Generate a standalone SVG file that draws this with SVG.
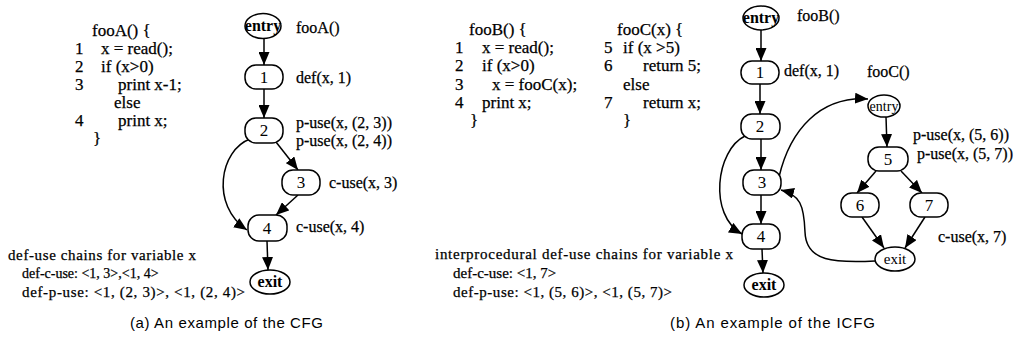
<svg xmlns="http://www.w3.org/2000/svg" width="1033" height="356" viewBox="0 0 1033 356">
<style>
.t{font-family:"Liberation Serif","Times New Roman",serif;font-size:17px;fill:#000;stroke:#000;stroke-width:0.25}
.l{font-family:"Liberation Serif","Times New Roman",serif;font-size:16px;fill:#000;stroke:#000;stroke-width:0.25}
.s{font-family:"Liberation Serif","Times New Roman",serif;font-size:15px;fill:#000;stroke:#000;stroke-width:0.25}
.n{font-family:"Liberation Serif","Times New Roman",serif;font-size:17px;fill:#000;text-anchor:middle}
.b{font-family:"Liberation Serif","Times New Roman",serif;font-size:16px;font-weight:bold;fill:#000;text-anchor:middle}
.c{font-family:"Liberation Sans",Arial,sans-serif;font-size:15px;fill:#000}
.nd{fill:#fff;stroke:#000;stroke-width:1.5}
.e{fill:none;stroke:#000;stroke-width:1.5;marker-end:url(#ah)}
</style>
<defs>
<marker id="ah" markerUnits="userSpaceOnUse" markerWidth="13" markerHeight="11" refX="13" refY="5.5" orient="auto">
<path d="M0,0 L13,5.5 L0,11 z" fill="#000"/>
</marker>
</defs>
<rect width="1033" height="356" fill="#fff"/>

<g id="codeA">
<text class="t" x="92" y="36">fooA() {</text>
<text class="t" x="75" y="54">1</text><text class="t" x="101" y="54">x = read();</text>
<text class="t" x="75" y="72">2</text><text class="t" x="101" y="72">if (x&gt;0)</text>
<text class="t" x="75" y="90">3</text><text class="t" x="118" y="90">print x-1;</text>
<text class="t" x="114" y="108">else</text>
<text class="t" x="75" y="126">4</text><text class="t" x="118" y="126">print x;</text>
<text class="t" x="93" y="144">}</text>
</g>
<g id="chainsA">
<text class="s" x="8" y="260" textLength="188" lengthAdjust="spacing">def-use chains for variable x</text>
<text class="s" x="22" y="278" style="font-size:14px">def-c-use: &lt;1, 3&gt;,&lt;1, 4&gt;</text>
<text class="s" x="22" y="297" textLength="223" lengthAdjust="spacing">def-p-use: &lt;1, (2, 3)&gt;, &lt;1, (2, 4)&gt;</text>
</g>

<g id="connectorsA">
<line class="e" x1="264" y1="39" x2="264" y2="65"/>
<line class="e" x1="264" y1="89" x2="264" y2="118"/>
<line class="e" x1="276" y1="142" x2="298" y2="170"/>
<line class="e" x1="298" y1="195" x2="276" y2="215"/>
<path class="e" d="M250 139 C220 150 210 205 247 230"/>
<line class="e" x1="267" y1="241" x2="268" y2="270"/>
</g>

<g id="a-entry"><ellipse class="nd" cx="263" cy="26" rx="18" ry="12.5"/><text class="b" x="263" y="31">entry</text></g>
<g id="a-n1"><rect class="nd" x="245" y="65" width="38" height="24" rx="11"/><text class="n" x="264" y="83">1</text></g>
<g id="a-n2"><rect class="nd" x="245" y="118" width="38" height="25" rx="11"/><text class="n" x="264" y="136">2</text></g>
<g id="a-n3"><rect class="nd" x="282" y="170" width="38" height="25" rx="11"/><text class="n" x="301" y="188">3</text></g>
<g id="a-n4"><rect class="nd" x="248" y="215" width="39" height="26" rx="11"/><text class="n" x="267" y="234">4</text></g>
<g id="a-exit"><ellipse class="nd" cx="270" cy="282" rx="20" ry="12"/><text class="b" x="270" y="287">exit</text></g>

<g id="labelsA">
<text class="l" x="296" y="33">fooA()</text>
<text class="l" x="296" y="83">def(x, 1)</text>
<text class="l" x="296" y="128">p-use(x, (2, 3))</text>
<text class="l" x="296" y="146">p-use(x, (2, 4))</text>
<text class="l" x="329" y="188">c-use(x, 3)</text>
<text class="l" x="296" y="232">c-use(x, 4)</text>
</g>

<g id="codeB">
<text class="t" x="469" y="35">fooB() {</text>
<text class="t" x="455" y="53">1</text><text class="t" x="482" y="53">x = read();</text>
<text class="t" x="455" y="71">2</text><text class="t" x="482" y="71">if (x&gt;0)</text>
<text class="t" x="455" y="90">3</text><text class="t" x="492" y="90">x = fooC(x);</text>
<text class="t" x="455" y="108">4</text><text class="t" x="482" y="108">print x;</text>
<text class="t" x="470" y="126">}</text>
<text class="t" x="617" y="35">fooC(x) {</text>
<text class="t" x="604" y="53">5</text><text class="t" x="623" y="53">if (x &gt;5)</text>
<text class="t" x="604" y="71">6</text><text class="t" x="643" y="71">return 5;</text>
<text class="t" x="623" y="90">else</text>
<text class="t" x="604" y="108">7</text><text class="t" x="643" y="108">return x;</text>
<text class="t" x="623" y="126">}</text>
</g>
<g id="chainsB">
<text class="s" x="435" y="259" textLength="298" lengthAdjust="spacing">interprocedural def-use chains for variable x</text>
<text class="s" x="453" y="278">def-c-use: &lt;1, 7&gt;</text>
<text class="s" x="453" y="297" textLength="219" lengthAdjust="spacing">def-p-use: &lt;1, (5, 6)&gt;, &lt;1, (5, 7)&gt;</text>
</g>

<g id="connectorsB">
<line class="e" x1="761" y1="30" x2="761" y2="61"/>
<line class="e" x1="760" y1="84" x2="760" y2="114"/>
<line class="e" x1="761" y1="139" x2="761" y2="170"/>
<line class="e" x1="761" y1="195" x2="761" y2="224"/>
<line class="e" x1="762" y1="249" x2="763" y2="273"/>
<path class="e" d="M745 136 C716 150 708 215 742 234"/>
<path class="e" d="M779 177 C790 130 820 96 868 99"/>
<line class="e" x1="886" y1="117" x2="887" y2="147"/>
<line class="e" x1="876" y1="171" x2="857" y2="193"/>
<line class="e" x1="901" y1="171" x2="922" y2="193"/>
<line class="e" x1="862" y1="217" x2="884" y2="248"/>
<line class="e" x1="925" y1="217" x2="905" y2="248"/>
<path class="e" d="M875 261 C835 263 806 262 805 232 C804 205 800 195 781 190"/>
</g>

<g id="b-entry"><ellipse class="nd" cx="761" cy="18" rx="18" ry="12"/><text class="b" x="761" y="23">entry</text></g>
<g id="b-n1"><rect class="nd" x="741" y="61" width="38" height="23" rx="11"/><text class="n" x="760" y="78">1</text></g>
<g id="b-n2"><rect class="nd" x="741" y="114" width="39" height="25" rx="11"/><text class="n" x="760" y="132">2</text></g>
<g id="b-n3"><rect class="nd" x="743" y="170" width="38" height="25" rx="11"/><text class="n" x="762" y="188">3</text></g>
<g id="b-n4"><rect class="nd" x="742" y="224" width="38" height="25" rx="11"/><text class="n" x="761" y="242">4</text></g>
<g id="b-exit"><ellipse class="nd" cx="764" cy="285" rx="20" ry="12"/><text class="b" x="764" y="290">exit</text></g>
<g id="c-entry"><ellipse class="nd" cx="884" cy="106" rx="16" ry="11"/><text class="n" x="884" y="111" style="font-size:14px">entry</text></g>
<g id="c-n5"><rect class="nd" x="868" y="147" width="40" height="24" rx="11"/><text class="n" x="888" y="165">5</text></g>
<g id="c-n6"><rect class="nd" x="841" y="193" width="38" height="24" rx="11"/><text class="n" x="860" y="211">6</text></g>
<g id="c-n7"><rect class="nd" x="910" y="193" width="38" height="24" rx="11"/><text class="n" x="929" y="211">7</text></g>
<g id="c-exit"><ellipse class="nd" cx="895" cy="259" rx="20" ry="12"/><text class="n" x="895" y="264" style="font-size:15px">exit</text></g>

<g id="labelsB">
<text class="l" x="797" y="21">fooB()</text>
<text class="l" x="784" y="76">def(x, 1)</text>
<text class="l" x="867" y="77">fooC()</text>
<text class="l" x="913" y="140">p-use(x, (5, 6))</text>
<text class="l" x="917" y="159">p-use(x, (5, 7))</text>
<text class="l" x="938" y="242">c-use(x, 7)</text>
</g>

<g id="captions">
<text class="c" x="130" y="328" textLength="193" lengthAdjust="spacing">(a) An example of the CFG</text>
<text class="c" x="670" y="328" textLength="205" lengthAdjust="spacing">(b) An example of the ICFG</text>
</g>
</svg>
